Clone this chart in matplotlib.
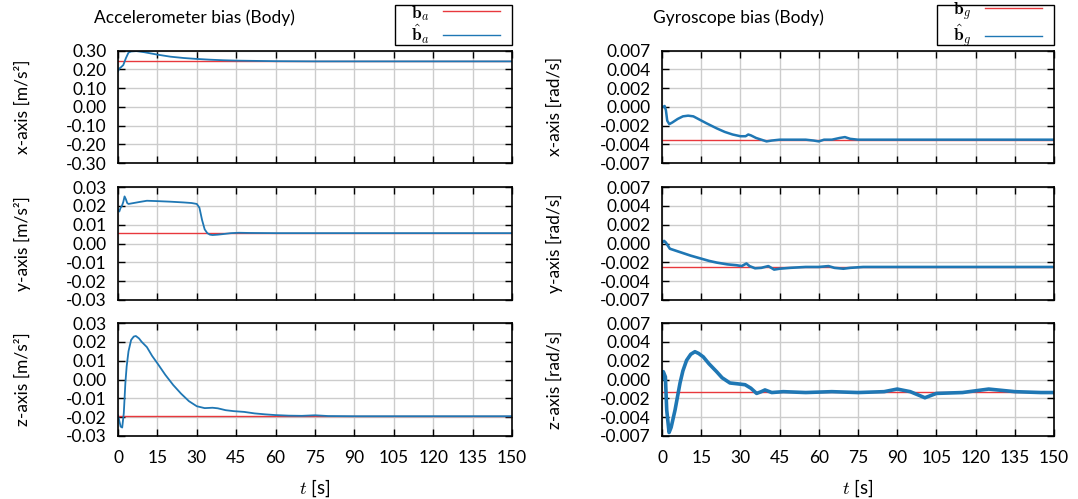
import matplotlib
matplotlib.use('Agg')
import matplotlib.pyplot as plt
from matplotlib.patches import Rectangle

plt.rcParams['font.family'] = ['Lato', 'DejaVu Sans']
plt.rcParams['mathtext.fontset'] = 'cm'

# time ticks
t_ticks = [0, 15, 30, 45, 60, 75, 90, 105, 120, 135, 150]

# accelerometer ticks / labels
acc_x_ticks = [-0.3, -0.2, -0.1, 0.0, 0.1, 0.2, 0.3]
acc_x_labels = ['-0.30', '-0.20', '-0.10', '0.00', '0.10', '0.20', '0.30']
acc_yz_ticks = [-0.03, -0.02, -0.01, 0.0, 0.01, 0.02, 0.03]
acc_yz_labels = ['-0.03', '-0.02', '-0.01', '0.00', '0.01', '0.02', '0.03']
# gyro axis is -0.0065..0.0065 split in 6, labels rounded
gyro_ticks = [-0.0065, -0.004333, -0.002167, 0.0, 0.002167, 0.004333, 0.0065]
gyro_labels = ['-0.007', '-0.004', '-0.002', '0.000', '0.002', '0.004', '0.007']

# true biases (red)
acc_true = [0.245, 0.0055, -0.0195]
gyro_true = [-0.0038, -0.0027, -0.00147]

# estimated biases (blue)
acc_x_t = [0, 0.5, 1, 2, 3, 4, 5, 7, 10, 15, 20, 25, 30, 35, 40, 45, 50, 60, 75, 90, 105, 120, 135, 150]
acc_x = [0.19, 0.205, 0.21, 0.223, 0.26, 0.29, 0.296, 0.298, 0.292, 0.279, 0.268, 0.261, 0.256,
         0.252, 0.249, 0.247, 0.246, 0.244, 0.243, 0.243, 0.243, 0.243, 0.243, 0.243]

acc_y_t = [0, 0.5, 1, 1.5, 2, 2.5, 3, 3.5, 4, 6, 8, 11, 15, 20, 25, 28, 30, 31, 32, 33, 34, 35,
           36, 38, 40, 43, 46, 50, 60, 75, 90, 105, 120, 135, 150]
acc_y = [0.018, 0.017, 0.019, 0.020, 0.022, 0.025, 0.0235, 0.0215, 0.021, 0.0215, 0.022, 0.0227,
         0.0225, 0.0222, 0.0218, 0.0215, 0.021, 0.019, 0.0125, 0.0075, 0.0055, 0.0047, 0.0045,
         0.0047, 0.005, 0.0055, 0.0057, 0.0056, 0.0055, 0.0055, 0.0055, 0.0055, 0.0055, 0.0055, 0.0055]

acc_z_t = [0, 0.5, 1, 1.6, 2.2, 2.8, 3.3, 4, 5, 6, 6.8, 8, 9, 11, 13, 15, 18, 21, 24, 27, 30, 33,
           36, 38, 41, 44, 48, 52, 56, 60, 65, 70, 75, 80, 90, 105, 120, 135, 150]
acc_z = [-0.019, -0.022, -0.025, -0.0255, -0.018, -0.002, 0.007, 0.015, 0.021, 0.0228, 0.0231,
         0.0218, 0.020, 0.0172, 0.0125, 0.0086, 0.0025, -0.0029, -0.0075, -0.0115, -0.0142, -0.0152,
         -0.015, -0.0153, -0.0163, -0.0168, -0.0172, -0.018, -0.0185, -0.0189, -0.0192, -0.0193,
         -0.019, -0.0194, -0.0195, -0.0195, -0.0195, -0.0195, -0.0195]

gyro_x_t = [0, 0.5, 1, 1.5, 2, 2.8, 4, 6, 8, 10, 12, 14.5, 17, 21, 24, 27, 30, 32, 33, 34, 36, 38,
            40, 42, 45, 50, 55, 58, 60, 62, 65, 68, 70, 72, 75, 80, 90, 105, 120, 135, 150]
gyro_x = [0.0, 0.0, 0.0001, -0.0004, -0.0016, -0.0020, -0.0018, -0.0014, -0.0011, -0.00102,
          -0.0011, -0.0015, -0.0019, -0.0025, -0.0029, -0.0032, -0.0034, -0.0034, -0.0032, -0.0033,
          -0.0036, -0.0038, -0.0040, -0.0039, -0.0038, -0.0038, -0.0038, -0.0039, -0.0040, -0.0038,
          -0.0038, -0.0036, -0.0035, -0.0037, -0.0038, -0.0038, -0.0038, -0.0038, -0.0038, -0.0038, -0.0038]

gyro_y_t = [0, 0.8, 1.5, 3, 5, 8, 11, 14.5, 18, 21, 25, 28.5, 30.5, 32.3, 33.5, 35.6, 38, 40.7,
            42.9, 45, 49, 55, 60, 63.7, 66, 69.4, 72, 77, 90, 105, 120, 135, 150]
gyro_y = [0.0001, 0.0003, 0.0001, -0.0006, -0.0008, -0.0011, -0.0014, -0.0017, -0.0020, -0.0022,
          -0.0024, -0.0025, -0.0026, -0.0023, -0.0026, -0.00285, -0.0028, -0.0026, -0.0030, -0.0029,
          -0.0028, -0.0027, -0.0027, -0.0026, -0.0028, -0.0029, -0.0028, -0.0027, -0.0027, -0.0027,
          -0.0027, -0.0027, -0.0027]

gyro_z_t = [0, 0.5, 1.3, 1.8, 2.7, 3.5, 5, 6.9, 8, 9.4, 11, 12.6, 14, 15.8, 18, 20.9, 23, 26, 29,
            31.8, 34, 36.2, 38, 39.4, 42, 46.4, 55, 65, 75, 85, 90, 95, 100.6, 105, 115, 125, 135, 145, 150]
gyro_z = [0.0001, 0.0009, 0.0003, -0.0035, -0.0061, -0.0055, -0.0035, -0.0004, 0.0010, 0.0022,
          0.0029, 0.0032, 0.0030, 0.0026, 0.0018, 0.0009, 0.0002, -0.0004, -0.0005, -0.0006, -0.0010,
          -0.0016, -0.0014, -0.0012, -0.0015, -0.0014, -0.0015, -0.0014, -0.0015, -0.0014, -0.0011,
          -0.0014, -0.0021, -0.0016, -0.0015, -0.0011, -0.0014, -0.0015, -0.0015]

RED = '#e8383d'
BLUE = '#1f77b4'

fig = plt.figure(figsize=(10.78, 4.99), dpi=100)

W, H = 1078.0, 499.0
rows_px = [(50.7, 163), (187, 300), (323, 436)]
cols_px = [(118, 512), (662, 1054)]
ylabel_x = [-0.221, -0.253]  # right edge of rotated y label, axes coords

acc_series = [(acc_x_t, acc_x), (acc_y_t, acc_y), (acc_z_t, acc_z)]
gyro_series = [(gyro_x_t, gyro_x), (gyro_y_t, gyro_y), (gyro_z_t, gyro_z)]
blue_lw = [[1.3, 1.3, 1.3], [1.8, 1.9, 2.6]]
axis_names = ['x-axis', 'y-axis', 'z-axis']

for c in range(2):
    for r in range(3):
        x0, x1 = cols_px[c]
        y0, y1 = rows_px[r]
        ax = fig.add_axes([x0 / W, 1 - y1 / H, (x1 - x0) / W, (y1 - y0) / H])
        if c == 0:
            tt, vv = acc_series[r]
            truth = acc_true[r]
            if r == 0:
                ticks, labels = acc_x_ticks, acc_x_labels
            else:
                ticks, labels = acc_yz_ticks, acc_yz_labels
            unit = 'm/s²'
        else:
            tt, vv = gyro_series[r]
            truth = gyro_true[r]
            ticks, labels = gyro_ticks, gyro_labels
            unit = 'rad/s'

        l1, = ax.plot([0, 150], [truth, truth], color=RED, lw=1.0)
        l2, = ax.plot(tt, vv, color=BLUE, lw=blue_lw[c][r])

        ax.set_xlim(0, 150)
        ax.set_ylim(ticks[0], ticks[-1])
        ax.set_xticks(t_ticks)
        ax.set_yticks(ticks)
        ax.set_yticklabels(labels)
        ax.grid(True, color='#cccccc', lw=1.0)
        ax.set_axisbelow(True)
        ax.tick_params(direction='in', top=True, right=True, length=5, width=1,
                       labelsize=12.5)
        ax.tick_params(axis='y', pad=8)
        ax.tick_params(axis='x', pad=10)
        for sp in ax.spines.values():
            sp.set_linewidth(1.2)
        ax.set_ylabel(axis_names[r] + ' [' + unit + ']', fontsize=12.5)
        ax.yaxis.set_label_coords(ylabel_x[c], 0.5)
        if r < 2:
            ax.set_xticklabels([])
        else:
            ax.set_xlabel('$t$ [s]', fontsize=13.5, labelpad=8)

        if r == 0:
            if c == 0:
                ax.text(0.193, 1.29, 'Accelerometer bias (Body)', transform=ax.transAxes,
                        ha='center', va='center', fontsize=12.5)
                labs = [r'$\mathbf{b}_a$', r'$\hat{\mathbf{b}}_a$']
            else:
                ax.text(0.194, 1.29, 'Gyroscope bias (Body)', transform=ax.transAxes,
                        ha='center', va='center', fontsize=12.5)
                labs = [r'$\mathbf{b}_g$', r'$\hat{\mathbf{b}}_g$']
            # legend contents without frame, box drawn separately (gnuplot-style key)
            leg = ax.legend([l1, l2], labs, loc='center right',
                            bbox_to_anchor=((x1 - 10) / W, 1 - 25 / H),
                            bbox_transform=fig.transFigure,
                            fontsize=12.5, frameon=False, markerfirst=False,
                            handlelength=3.3, borderpad=0.1, labelspacing=0.0,
                            handletextpad=0.8, borderaxespad=0)
            for line in leg.get_lines():
                line.set_linewidth(1.0)
            fig.patches.append(Rectangle(((x1 - 117) / W, 1 - 45 / H), 117 / W, 40 / H,
                                         fill=False, edgecolor='black', lw=1.0,
                                         transform=fig.transFigure, figure=fig))

fig.savefig('out.png', dpi=100)
